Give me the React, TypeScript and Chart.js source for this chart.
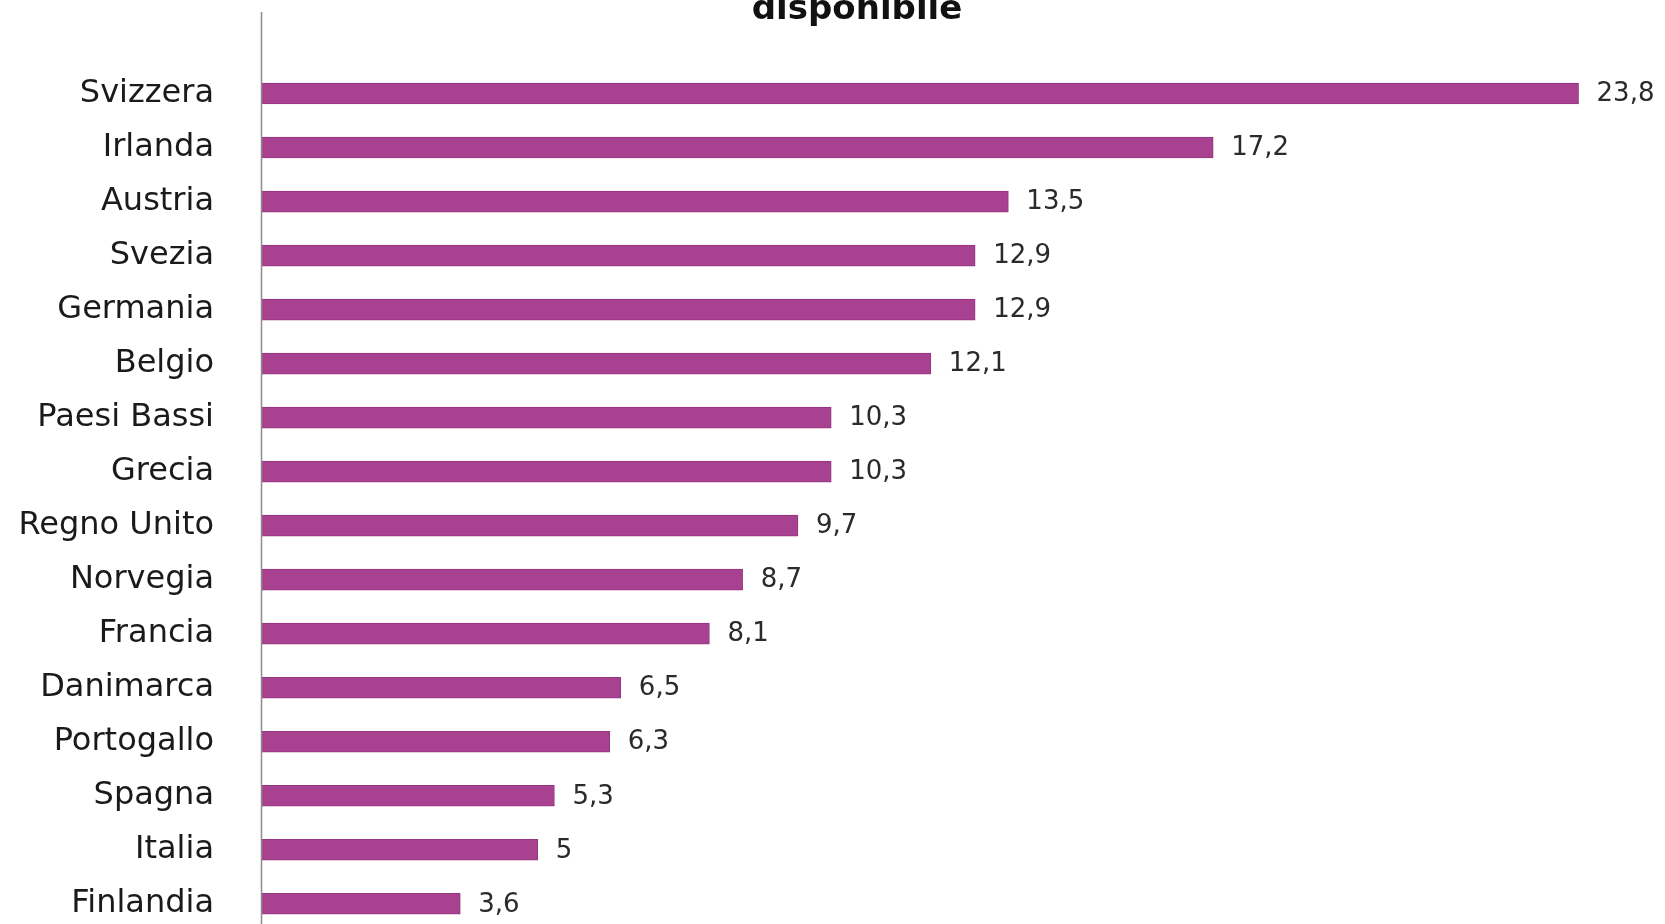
import React, { useEffect, useRef } from "react";
import { Chart, registerables } from "chart.js";

Chart.register(...registerables);

const categories = [
  "Svizzera", "Irlanda", "Austria", "Svezia", "Germania", "Belgio", "Paesi Bassi", "Grecia",
  "Regno Unito", "Norvegia", "Francia", "Danimarca", "Portogallo", "Spagna", "Italia", "Finlandia",
];
const values = [23.8, 17.2, 13.5, 12.9, 12.9, 12.1, 10.3, 10.3, 9.7, 8.7, 8.1, 6.5, 6.3, 5.3, 5, 3.6];
const valueLabels = ["23,8", "17,2", "13,5", "12,9", "12,9", "12,1", "10,3", "10,3", "9,7", "8,7", "8,1", "6,5", "6,3", "5,3", "5", "3,6"];
const titleText = "disponibile";

const FONT = "'DejaVu Sans', sans-serif";

export default function App() {
  const ref = useRef<HTMLCanvasElement | null>(null);
  useEffect(() => {
    if (!ref.current) return;
    const extras = {
      id: "extras",
      afterDatasetsDraw(chart: any) {
        const ctx = chart.ctx;
        const meta = chart.getDatasetMeta(0);
        ctx.save();
        ctx.font = `26px ${FONT}`;
        ctx.fillStyle = "#2a2a2a";
        ctx.textAlign = "left";
        ctx.textBaseline = "middle";
        meta.data.forEach((bar: any, i: number) => {
          ctx.fillText(valueLabels[i], bar.x + 18, bar.y + 1);
        });
        // axis line
        const x = chart.chartArea.left + 0.5;
        ctx.strokeStyle = "#8c8c8c";
        ctx.lineWidth = 1.5;
        ctx.beginPath();
        ctx.moveTo(x, 12);
        ctx.lineTo(x, chart.height);
        ctx.stroke();
        // title (top line cut off)
        ctx.font = `bold 34px ${FONT}`;
        ctx.fillStyle = "#111";
        ctx.textAlign = "center";
        ctx.textBaseline = "alphabetic";
        ctx.fillText(titleText, 857, 19);
        ctx.restore();
      },
    };
    const chart = new Chart(ref.current, {
      type: "bar",
      data: {
        labels: categories,
        datasets: [
          {
            data: values,
            backgroundColor: "#a8418f",
            borderColor: "#963580",
            borderWidth: 1,
            barThickness: 21,
          },
        ],
      },
      options: {
        indexAxis: "y",
        responsive: false,
        animation: false,
        layout: { padding: { top: 66.5, right: 20, bottom: 0, left: 0 } },
        plugins: { legend: { display: false }, tooltip: { enabled: false }, title: { display: false } },
        scales: {
          x: { display: false, min: 0, max: 25 },
          y: {
            afterFit: (scale: any) => {
              scale.width = 261;
            },
            grid: { display: false },
            border: { display: false },
            ticks: {
              padding: 39,
              color: "#1a1a1a",
              font: { family: FONT, size: 32 },
            },
          },
        },
      },
      plugins: [extras],
    });
    return () => chart.destroy();
  }, []);
  return (
    <div style={{ position: "fixed", left: 0, top: 0, width: 1665, height: 924, overflow: "hidden", background: "#fff" }}>
      <canvas ref={ref} width={1665} height={989} style={{ display: "block" }} />
    </div>
  );
}
